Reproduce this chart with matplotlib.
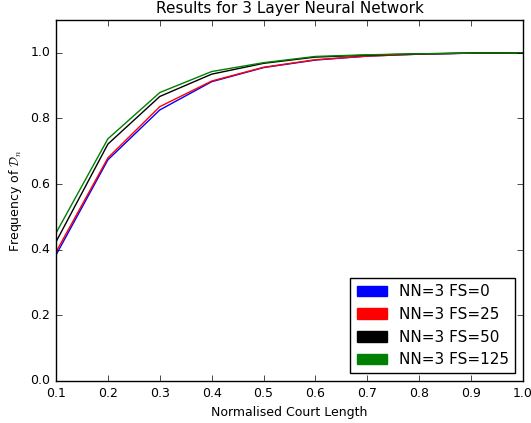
import matplotlib
matplotlib.use("Agg")
import matplotlib.pyplot as plt
import matplotlib.patches as mpatches

plt.style.use("classic")

court_length = [0.1, 0.2, 0.3, 0.4, 0.5, 0.6, 0.7, 0.8, 0.9, 1.0]
fs0 = [0.384, 0.674, 0.826, 0.912, 0.955, 0.978, 0.990, 0.996, 0.999, 1.0]
fs25 = [0.393, 0.680, 0.836, 0.914, 0.956, 0.979, 0.990, 0.996, 0.999, 1.0]
fs50 = [0.424, 0.722, 0.867, 0.935, 0.968, 0.987, 0.993, 0.997, 0.999, 1.0]
fs125 = [0.451, 0.738, 0.879, 0.943, 0.970, 0.989, 0.994, 0.997, 0.999, 1.0]

series = [(fs0, "b", "NN=3 FS=0"),
          (fs25, "r", "NN=3 FS=25"),
          (fs50, "k", "NN=3 FS=50"),
          (fs125, "g", "NN=3 FS=125")]

fig = plt.figure(figsize=(5.31, 4.23), dpi=100, facecolor="white")
ax = fig.add_axes([0.1055, 0.0993, 0.8795, 0.8534])

handles = []
for vals, col, lab in series:
    ax.plot(court_length, vals, color=col, linewidth=1)
    handles.append(mpatches.Patch(color=col, label=lab))

ax.set_xlim(0.1, 1.0)
ax.set_ylim(0.0, 1.1)
ax.set_yticks([0.0, 0.2, 0.4, 0.6, 0.8, 1.0])
ax.set_xticks([0.1, 0.2, 0.3, 0.4, 0.5, 0.6, 0.7, 0.8, 0.9, 1.0])
ax.tick_params(labelsize=9)
ax.set_title("Results for 3 Layer Neural Network", fontsize=11)
ax.set_xlabel("Normalised Court Length", fontsize=9)
ax.set_ylabel(r"Frequency of $\mathcal{D}_n$", fontsize=9)
ax.legend(handles=handles, loc="lower right", fontsize=11, fancybox=False)

fig.savefig("out.png", dpi=100, facecolor="white")
